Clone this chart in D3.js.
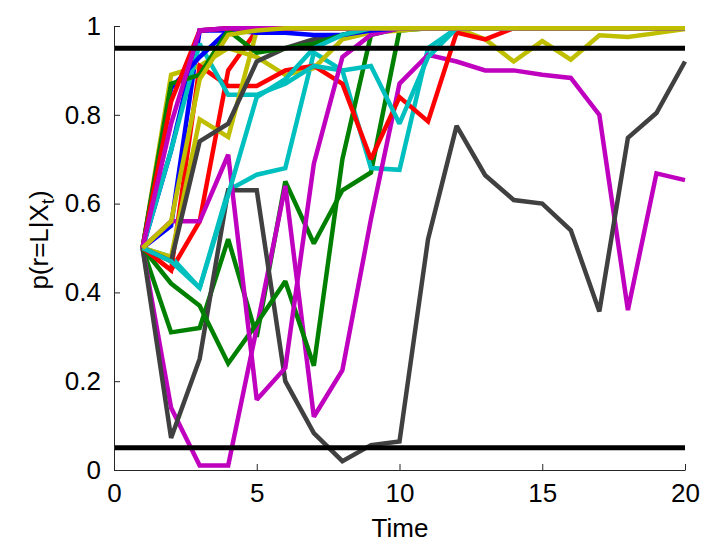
<!DOCTYPE html>
<html>
<head>
<meta charset="utf-8">
<script src="https://cdn.jsdelivr.net/npm/d3@7"></script>
<style>
body { margin: 0; background: #fff; }
text { font-family: "Liberation Sans", Arial, sans-serif; fill: #000; }
</style>
</head>
<body>
<svg id="chart" width="704" height="542"></svg>
<script>
// time steps 1..20
var times = d3.range(1, 21);

// one array per trial, p(r=L|X_t)
var blue1 = [0.5, 0.55, 0.99, 0.995, 0.995, 0.995, 0.995, 0.995, 0.995, 0.995, 0.995, 0.995, 0.995, 0.995, 0.995, 0.995, 0.995, 0.995, 0.995, 0.995];
var green1 = [0.5, 0.31, 0.32, 0.52, 0.3, 0.65, 0.51, 0.63, 0.67, 0.99, 0.995, 0.995, 0.995, 0.995, 0.995, 0.995, 0.995, 0.995, 0.995, 0.995];
var red1 = [0.5, 0.45, 0.56, 0.9, 0.99, 0.995, 0.995, 0.995, 0.995, 0.995, 0.995, 0.995, 0.995, 0.995, 0.995, 0.995, 0.995, 0.995, 0.995, 0.995];
var cyan1 = [0.5, 0.48, 0.41, 0.63, 0.665, 0.68, 0.94, 0.9, 0.68, 0.676, 0.95, 0.995, 0.995, 0.995, 0.995, 0.995, 0.995, 0.995, 0.995, 0.995];
var magenta1 = [0.5, 0.14, 0.01, 0.01, 0.32, 0.64, 0.12, 0.225, 0.565, 0.87, 0.935, 0.92, 0.9, 0.9, 0.89, 0.883, 0.8, 0.36, 0.668, 0.653];
var yellow1 = [0.5, 0.89, 0.91, 0.95, 0.93, 0.89, 0.905, 0.97, 0.985, 0.99, 0.995, 0.995, 0.97, 0.92, 0.966, 0.924, 0.979, 0.975, 0.984, 0.993];
var gray1 = [0.5, 0.072, 0.25, 0.63, 0.63, 0.2, 0.083, 0.02, 0.056, 0.064, 0.52, 0.775, 0.664, 0.608, 0.6, 0.54, 0.357, 0.748, 0.804, 0.92];

var blue2 = [0.5, 0.72, 0.99, 0.99, 0.995, 0.995, 0.995, 0.995, 0.995, 0.995, 0.995, 0.995, 0.995, 0.995, 0.995, 0.995, 0.995, 0.995, 0.995, 0.995];
var green2 = [0.5, 0.42, 0.37, 0.24, 0.33, 0.425, 0.235, 0.7, 0.98, 0.995, 0.995, 0.995, 0.995, 0.995, 0.995, 0.995, 0.995, 0.995, 0.995, 0.995];
var red2 = [0.5, 0.45, 0.91, 0.865, 0.865, 0.9, 0.91, 0.87, 0.7, 0.84, 0.785, 0.985, 0.97, 0.995, 0.995, 0.995, 0.995, 0.995, 0.995, 0.995];
var cyan2 = [0.5, 0.72, 0.96, 0.845, 0.845, 0.87, 0.91, 0.9, 0.91, 0.78, 0.93, 0.995, 0.995, 0.995, 0.995, 0.995, 0.995, 0.995, 0.995, 0.995];
var magenta2 = [0.5, 0.56, 0.56, 0.71, 0.158, 0.23, 0.69, 0.93, 0.98, 0.995, 0.995, 0.995, 0.995, 0.995, 0.995, 0.995, 0.995, 0.995, 0.995, 0.995];
var yellow2 = [0.5, 0.48, 0.79, 0.75, 0.99, 0.995, 0.995, 0.995, 0.995, 0.995, 0.995, 0.995, 0.995, 0.995, 0.995, 0.995, 0.995, 0.995, 0.995, 0.995];
var gray2 = [0.5, 0.47, 0.74, 0.78, 0.92, 0.95, 0.97, 0.98, 0.995, 0.995, 0.995, 0.995, 0.995, 0.995, 0.995, 0.995, 0.995, 0.995, 0.995, 0.995];

var blue3 = [0.5, 0.86, 0.93, 0.99, 0.985, 0.985, 0.98, 0.98, 0.99, 0.995, 0.995, 0.995, 0.995, 0.995, 0.995, 0.995, 0.995, 0.995, 0.995, 0.995];
var green3 = [0.5, 0.87, 0.89, 0.99, 0.94, 0.95, 0.96, 0.98, 0.995, 0.995, 0.995, 0.995, 0.995, 0.995, 0.995, 0.995, 0.995, 0.995, 0.995, 0.995];
var red3 = [0.5, 0.83, 0.99, 0.995, 0.995, 0.995, 0.995, 0.995, 0.995, 0.995, 0.995, 0.995, 0.995, 0.995, 0.995, 0.995, 0.995, 0.995, 0.995, 0.995];
var cyan3 = [0.5, 0.47, 0.41, 0.62, 0.84, 0.88, 0.95, 0.98, 0.995, 0.995, 0.995, 0.995, 0.995, 0.995, 0.995, 0.995, 0.995, 0.995, 0.995, 0.995];
var magenta3 = [0.5, 0.78, 0.99, 0.995, 0.995, 0.995, 0.995, 0.995, 0.995, 0.995, 0.995, 0.995, 0.995, 0.995, 0.995, 0.995, 0.995, 0.995, 0.995, 0.995];
var yellow3 = [0.5, 0.56, 0.88, 0.98, 0.99, 0.995, 0.995, 0.995, 0.995, 0.995, 0.995, 0.995, 0.995, 0.995, 0.995, 0.995, 0.995, 0.995, 0.995, 0.995];

// decision thresholds
var thresholds = [0.95, 0.05];

var xTicks = [0, 5, 10, 15, 20];
var yTicks = [0, 0.2, 0.4, 0.6, 0.8, 1];

// matlab default line colours, in plotting order
var trials = [
    {c: '#0000ff', v: blue1}, {c: '#008000', v: green1}, {c: '#ff0000', v: red1},
    {c: '#00bfbf', v: cyan1}, {c: '#bf00bf', v: magenta1}, {c: '#bfbf00', v: yellow1},
    {c: '#404040', v: gray1},
    {c: '#0000ff', v: blue2}, {c: '#008000', v: green2}, {c: '#ff0000', v: red2},
    {c: '#00bfbf', v: cyan2}, {c: '#bf00bf', v: magenta2}, {c: '#bfbf00', v: yellow2},
    {c: '#404040', v: gray2},
    {c: '#0000ff', v: blue3}, {c: '#008000', v: green3}, {c: '#ff0000', v: red3},
    {c: '#00bfbf', v: cyan3}, {c: '#bf00bf', v: magenta3}, {c: '#bfbf00', v: yellow3}
];

var svg = d3.select('#chart');
var x = d3.scaleLinear().domain([0, 20]).range([114, 685]);
var y = d3.scaleLinear().domain([0, 1]).range([470, 26]);

var line = d3.line()
    .x(function (d, i) { return x(times[i]); })
    .y(function (d) { return y(d); });

svg.append('g').selectAll('path').data(trials).enter().append('path')
    .attr('d', function (d) { return line(d.v); })
    .attr('fill', 'none')
    .attr('stroke', function (d) { return d.c; })
    .attr('stroke-width', 4.5)
    .attr('stroke-linejoin', 'miter')
    .attr('stroke-miterlimit', 2);

svg.append('g').selectAll('line').data(thresholds).enter().append('line')
    .attr('x1', x(0)).attr('x2', x(20))
    .attr('y1', function (d) { return y(d); })
    .attr('y2', function (d) { return y(d); })
    .attr('stroke', '#000').attr('stroke-width', 5);

// axes, ticks pointing inward like matlab
var xAxis = svg.append('g').attr('transform', 'translate(0,470)')
    .call(d3.axisBottom(x).tickValues(xTicks).tickSizeInner(-6).tickSizeOuter(0).tickPadding(14));
var yAxis = svg.append('g').attr('transform', 'translate(114,0)')
    .call(d3.axisLeft(y).tickValues(yTicks).tickSizeInner(-6).tickSizeOuter(0).tickPadding(13)
        .tickFormat(function (d) { return d.toString(); }));

[xAxis, yAxis].forEach(function (a) {
    a.select('.domain').attr('stroke', '#262626').attr('stroke-width', 1);
    a.selectAll('.tick line').attr('stroke', '#262626');
    a.selectAll('.tick text').attr('font-size', 26).attr('font-family', '"Liberation Sans", Arial, sans-serif').attr('fill', '#000');
});

svg.append('text').attr('x', 400).attr('y', 537)
    .attr('text-anchor', 'middle').attr('font-size', 26).text('Time');

var ylab = svg.append('text')
    .attr('transform', 'translate(48,240) rotate(-90)')
    .attr('text-anchor', 'middle').attr('font-size', 26);
ylab.append('tspan').text('p(r=L|X');
ylab.append('tspan').attr('font-size', 18).attr('dy', 6).text('t');
ylab.append('tspan').attr('dy', -6).text(')');
</script>
</body>
</html>
